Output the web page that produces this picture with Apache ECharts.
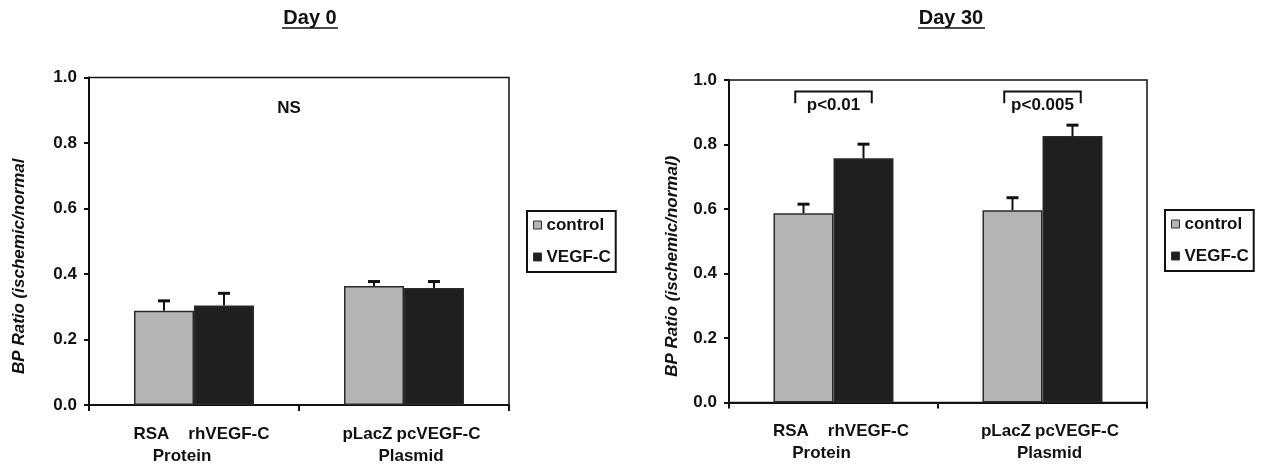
<!DOCTYPE html>
<html><head><meta charset="utf-8">
<script src="https://cdn.jsdelivr.net/npm/echarts@6/dist/echarts.min.js"></script>
<style>html,body{margin:0;padding:0;background:#fff}#c{width:1267px;height:468px}</style>
</head><body><div id="c"></div>
<script>
// ---- data ----
const groups = ['Protein', 'Plasmid'];
const controlNames = ['RSA', 'pLacZ'];
const vegfNames = ['rhVEGF-C', 'pcVEGF-C'];
const seriesNames = ['control', 'VEGF-C'];
const panelTitles = ['Day 0', 'Day 30'];
const yNames = ['BP Ratio (ischemic/normal', 'BP Ratio (ischemic/normal)'];
const yTickValues = [0.0, 0.2, 0.4, 0.6, 0.8, 1.0];

const day0Control = [0.288, 0.363];
const day0ControlErr = [0.030, 0.014];
const day0Vegf = [0.304, 0.357];
const day0VegfErr = [0.037, 0.020];

const day30Control = [0.587, 0.596];
const day30ControlErr = [0.028, 0.039];
const day30Vegf = [0.757, 0.826];
const day30VegfErr = [0.044, 0.034];

const day0Note = 'NS';
const day0NoteLevel = 0.907;
const day30Notes = ['p<0.01', 'p<0.005'];
const bracketTop = [0.964, 0.964];
const bracketLeg = [0.928, 0.928];
const bracketText = [0.922, 0.922];

// ---- style ----
const FONT = '"Liberation Sans", Arial, Helvetica, sans-serif';
const BAR_W = 60;
const CONTROL_COLOR = '#b4b4b4';
const VEGF_COLOR = '#1f1f1f';
const INK = '#111';
const LABEL_GAPS = [19, 4];   // spacing between the two sub-labels of each group

const chart = echarts.init(document.getElementById('c'), null, {renderer: 'canvas'});

const lbl = {fontSize: 17, fontWeight: 'bold', fontFamily: FONT, color: INK, lineHeight: 22};
function xAxis(gi) {
  return {
    type: 'category', gridIndex: gi, data: groups,
    axisLine: {lineStyle: {color: INK, width: 2}},
    axisTick: {show: true, length: 6, lineStyle: {color: INK, width: 2}},
    axisLabel: {
      interval: 0, margin: 18, color: INK,
      formatter: (v, i) => `{p| }{a|${controlNames[i]}}{s${i}| }{b|${vegfNames[i]}}\n{g${i}|${v}}`,
      rich: {
        p: {width: 15, lineHeight: 22, fontSize: 17},
        s0: {width: LABEL_GAPS[0], lineHeight: 22, fontSize: 17},
        s1: {width: LABEL_GAPS[1], lineHeight: 22, fontSize: 17},
        a: lbl, b: lbl,
        g0: Object.assign({padding: [0, 24, 0, 0]}, lbl),
        g1: Object.assign({padding: [0, 0, 0, 14]}, lbl)
      }
    },
    splitLine: {show: false}
  };
}
function yAxis(gi, gap) {
  return {
    type: 'value', gridIndex: gi, min: 0, max: 1, interval: 0.2,
    name: yNames[gi], nameLocation: 'middle', nameGap: gap,
    nameTextStyle: {fontSize: 17, fontWeight: 'bold', fontStyle: 'italic', fontFamily: FONT, color: INK, padding: [0, 50, 0, 0]},
    axisLine: {show: true, lineStyle: {color: INK, width: 2}},
    axisTick: {show: true, length: 5, lineStyle: {color: INK, width: 2}},
    axisLabel: {margin: 12, color: INK, fontSize: 17, fontWeight: 'bold', fontFamily: FONT,
      formatter: v => yTickValues.some(t => Math.abs(t - v) < 1e-9) ? v.toFixed(1) : ''},
    splitLine: {show: false}
  };
}
function bars(gi, name, data, color) {
  return {
    type: 'bar', name, xAxisIndex: gi, yAxisIndex: gi, data,
    barWidth: BAR_W, barGap: '0%',
    itemStyle: {color, borderColor: '#2a2a2a', borderWidth: 1.5},
    silent: true, z: 2
  };
}
function errs(gi, means, errors, side) {
  return {
    type: 'custom', xAxisIndex: gi, yAxisIndex: gi, silent: true, z: 5,
    data: means.map((m, i) => [i, m, m + errors[i]]),
    renderItem(params, api) {
      const c0 = api.coord([api.value(0), api.value(1)]);
      const c1 = api.coord([api.value(0), api.value(2)]);
      const x = c0[0] + side * BAR_W / 2;
      return {type: 'group', children: [
        {type: 'line', shape: {x1: x, y1: c0[1], x2: x, y2: c1[1]}, style: {stroke: INK, lineWidth: 2}},
        {type: 'line', shape: {x1: x - 6, y1: c1[1], x2: x + 6, y2: c1[1]}, style: {stroke: INK, lineWidth: 3}}
      ]};
    }
  };
}
function legend(left, top) {
  return {
    data: seriesNames, orient: 'vertical', left, top,
    icon: 'rect', itemWidth: 8, itemHeight: 8, itemGap: 14,
    itemStyle: {borderColor: '#333', borderWidth: 1},
    textStyle: {fontSize: 17, fontWeight: 'bold', fontFamily: FONT, color: INK, lineHeight: 18},
    borderColor: INK, borderWidth: 2, padding: [5, 5, 6, 6], selectedMode: false
  };
}

const option = {
  animation: false,
  backgroundColor: '#fff',
  grid: [
    {left: 89, top: 77.5, width: 420, height: 327.5, show: true, borderColor: INK, borderWidth: 1.5, backgroundColor: 'transparent'},
    {left: 729, top: 80, width: 418, height: 322.5, show: true, borderColor: INK, borderWidth: 1.5, backgroundColor: 'transparent'}
  ],
  xAxis: [xAxis(0), xAxis(1)],
  yAxis: [yAxis(0, 61), yAxis(1, 48)],
  legend: [legend(527, 211), legend(1165, 210)],
  graphic: [
    {type: 'text', x: 310, y: 18, style: {text: panelTitles[0], align: 'center', verticalAlign: 'middle', font: 'bold 20px ' + FONT, fill: INK}},
    {type: 'line', shape: {x1: 282, y1: 28, x2: 338, y2: 28}, style: {stroke: INK, lineWidth: 1.5}},
    {type: 'text', x: 951, y: 18, style: {text: panelTitles[1], align: 'center', verticalAlign: 'middle', font: 'bold 20px ' + FONT, fill: INK}},
    {type: 'line', shape: {x1: 918, y1: 28, x2: 985, y2: 28}, style: {stroke: INK, lineWidth: 1.5}}
  ],
  series: [
    bars(0, seriesNames[0], day0Control, CONTROL_COLOR),
    bars(0, seriesNames[1], day0Vegf, VEGF_COLOR),
    errs(0, day0Control, day0ControlErr, -1),
    errs(0, day0Vegf, day0VegfErr, 1),
    bars(1, seriesNames[0], day30Control, CONTROL_COLOR),
    bars(1, seriesNames[1], day30Vegf, VEGF_COLOR),
    errs(1, day30Control, day30ControlErr, -1),
    errs(1, day30Vegf, day30VegfErr, 1),
    {
      type: 'custom', xAxisIndex: 0, yAxisIndex: 0, silent: true, z: 6,
      data: [[0, day0NoteLevel]],
      renderItem(params, api) {
        const c = api.coord([api.value(0), api.value(1)]);
        const bw = api.size([1, 0])[0];
        return {type: 'text', x: c[0] + bw / 2 - 10, y: c[1],
          style: {text: day0Note, align: 'center', verticalAlign: 'middle', font: 'bold 17px ' + FONT, fill: INK}};
      }
    },
    {
      type: 'custom', xAxisIndex: 1, yAxisIndex: 1, silent: true, z: 6,
      data: day30Notes.map((t, i) => [i, bracketTop[i], bracketLeg[i], bracketText[i]]),
      renderItem(params, api) {
        const top = api.coord([api.value(0), api.value(1)]);
        const leg = api.coord([api.value(0), api.value(2)]);
        const txt = api.coord([api.value(0), api.value(3)]);
        const hw = api.size([1, 0])[0] * 0.183;
        const x = top[0];
        return {type: 'group', children: [
          {type: 'polyline', shape: {points: [[x - hw, leg[1]], [x - hw, top[1]], [x + hw, top[1]], [x + hw, leg[1]]]},
            style: {stroke: INK, lineWidth: 2, fill: null}},
          {type: 'text', x: x, y: txt[1],
            style: {text: day30Notes[params.dataIndex], align: 'center', verticalAlign: 'middle', font: 'bold 17px ' + FONT, fill: INK}}
        ]};
      }
    }
  ]
};
chart.setOption(option);
</script>
</body></html>
